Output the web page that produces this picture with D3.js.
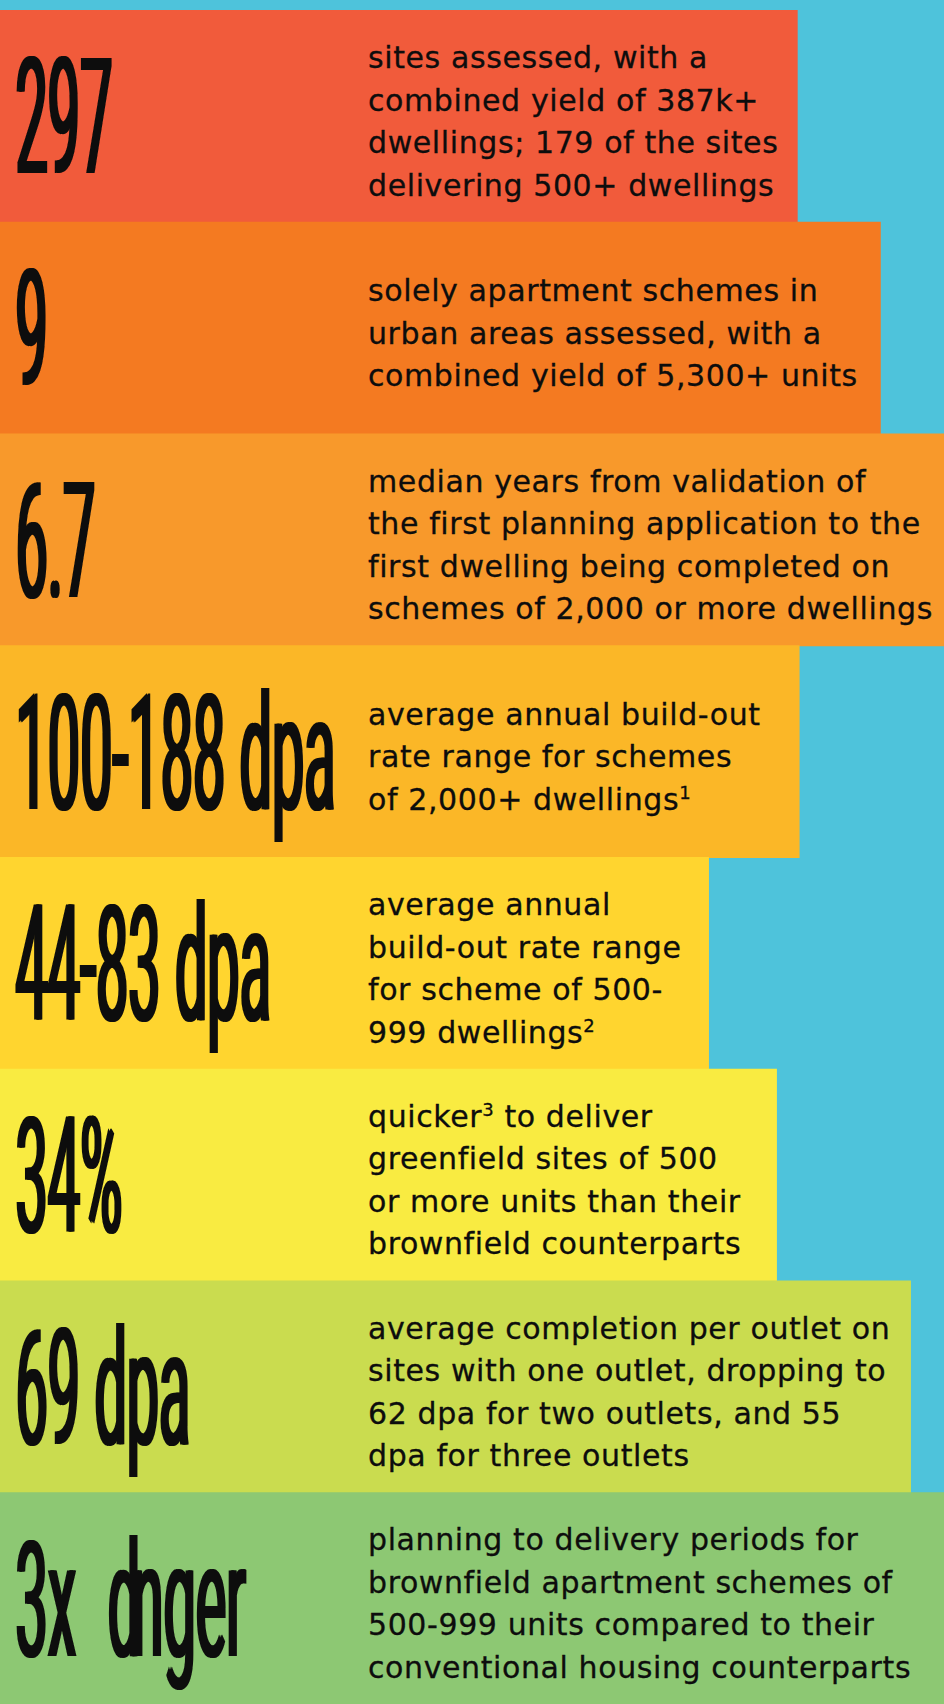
<!DOCTYPE html>
<html>
<head>
<meta charset="utf-8">
<script src="https://cdn.jsdelivr.net/npm/d3@7"></script>
<style>
  body { margin: 0; background: #4ec3db; }
  svg { display: block; }
</style>
</head>
<body>
<div id="graph"><svg></svg></div>
<script>
// page size
let width = 944;
let height = 1704;

// the big figures, one per panel
const statValues = ["297", "9", "6.7", "100-188 dpa", "44-83 dpa", "34%", "69 dpa", "3x dnger"];

// the text next to each figure, line by line (^n = footnote mark)
const statNotes = [
  ["sites assessed, with a", "combined yield of 387k+", "dwellings; 179 of the sites", "delivering 500+ dwellings"],
  ["solely apartment schemes in", "urban areas assessed, with a", "combined yield of 5,300+ units"],
  ["median years from validation of", "the first planning application to the", "first dwelling being completed on", "schemes of 2,000 or more dwellings"],
  ["average annual build-out", "rate range for schemes", "of 2,000+ dwellings^1"],
  ["average annual", "build-out rate range", "for scheme of 500-", "999 dwellings^2"],
  ["quicker^3 to deliver", "greenfield sites of 500", "or more units than their", "brownfield counterparts"],
  ["average completion per outlet on", "sites with one outlet, dropping to", "62 dpa for two outlets, and 55", "dpa for three outlets"],
  ["planning to delivery periods for", "brownfield apartment schemes of", "500-999 units compared to their", "conventional housing counterparts"]
];

// how far each panel reaches across the page (% of width)
const panelExtent = [84.5, 93.3, 100, 84.7, 75.1, 82.3, 96.5, 100];

const panelColors = ["#f15b3b", "#f47a21", "#f8992b", "#fbb727", "#ffd52f", "#f9eb41", "#cadc4f", "#8dc873"];

let svg = d3
  .select("#graph svg")
  .attr("width", width)
  .attr("height", height);

svg.append("rect").attr("width", width).attr("height", height).attr("fill", "#4ec3db");

// fake a heavier vertical stroke on the squeezed figures
let defs = svg.append("defs");
let widen = defs.append("filter").attr("id", "widen").attr("x", -0.1).attr("width", 1.2);
widen.append("feOffset").attr("in", "SourceGraphic").attr("dx", 1.5).attr("result", "o1");
widen.append("feOffset").attr("in", "SourceGraphic").attr("dx", 3).attr("result", "o2");
let merge = widen.append("feMerge");
merge.append("feMergeNode").attr("in", "SourceGraphic");
merge.append("feMergeNode").attr("in", "o1");
merge.append("feMergeNode").attr("in", "o2");

let rows = d3.range(statValues.length);

let xScale = d3.scaleLinear().domain([0, 100]).range([0, width]);
let yScale = d3.scaleBand().domain(rows).range([10, height]).padding(0);
let colorScale = d3.scaleOrdinal().domain(rows).range(panelColors);

let bigSize = 162;
let capHeight = bigSize * 0.711;
let squeeze = 0.355;
let noteSize = 30;
let lineGap = 42.5;
let noteX = 368;

let panel = svg
  .selectAll("g.panel")
  .data(rows)
  .join("g")
  .attr("class", "panel");

panel
  .append("rect")
  .attr("x", 0)
  .attr("y", (i) => yScale(i))
  .attr("width", (i) => xScale(panelExtent[i]))
  .attr("height", yScale.bandwidth() + 1)
  .attr("fill", (i) => colorScale(i));

// big figure, squeezed horizontally
panel
  .append("g")
  .attr("filter", "url(#widen)")
  .append("text")
  .attr("transform", (i) => {
    let cy = yScale(i) + yScale.bandwidth() / 2 + capHeight / 2;
    return "translate(14," + cy + ") scale(" + squeeze + ",1)";
  })
  .style("font-family", "Roboto, 'Liberation Sans', sans-serif")
  .style("font-size", bigSize + "px")
  .attr("fill", "#0d0d0d")
  // the source type leaves a wide gap after "3x" and crushes the d into the n
  .attr("dx", (i) =>
    statValues[i] === "3x dnger"
      ? [0, 0, 0, bigSize * 0.3, -bigSize * 0.15].join(" ")
      : null
  )
  .text((i) => statValues[i]);

// description lines
panel.each(function (i) {
  let lines = statNotes[i];
  let cy = yScale(i) + yScale.bandwidth() / 2;
  let first = cy - ((lines.length - 1) * lineGap) / 2 + 16;
  let txt = d3
    .select(this)
    .append("text")
    .style("font-family", "'DejaVu Sans', sans-serif")
    .style("font-size", noteSize + "px")
    .style("letter-spacing", "0.6px")
    .attr("fill", "#0d0d0d")
    .attr("stroke", "#0d0d0d")
    .attr("stroke-width", 0.3);

  lines.forEach((line, k) => {
    let parts = line.split(/(\^\d)/).filter((p) => p !== "");
    let y = first + k * lineGap;
    parts.forEach((p, j) => {
      let t = txt.append("tspan");
      if (j === 0) t.attr("x", noteX).attr("y", y);
      if (p[0] === "^") {
        t.attr("dy", -11).style("font-size", "18px").text(p.slice(1));
      } else {
        if (j > 0) t.attr("y", y);
        t.text(p);
      }
    });
  });
});
</script>
</body>
</html>
